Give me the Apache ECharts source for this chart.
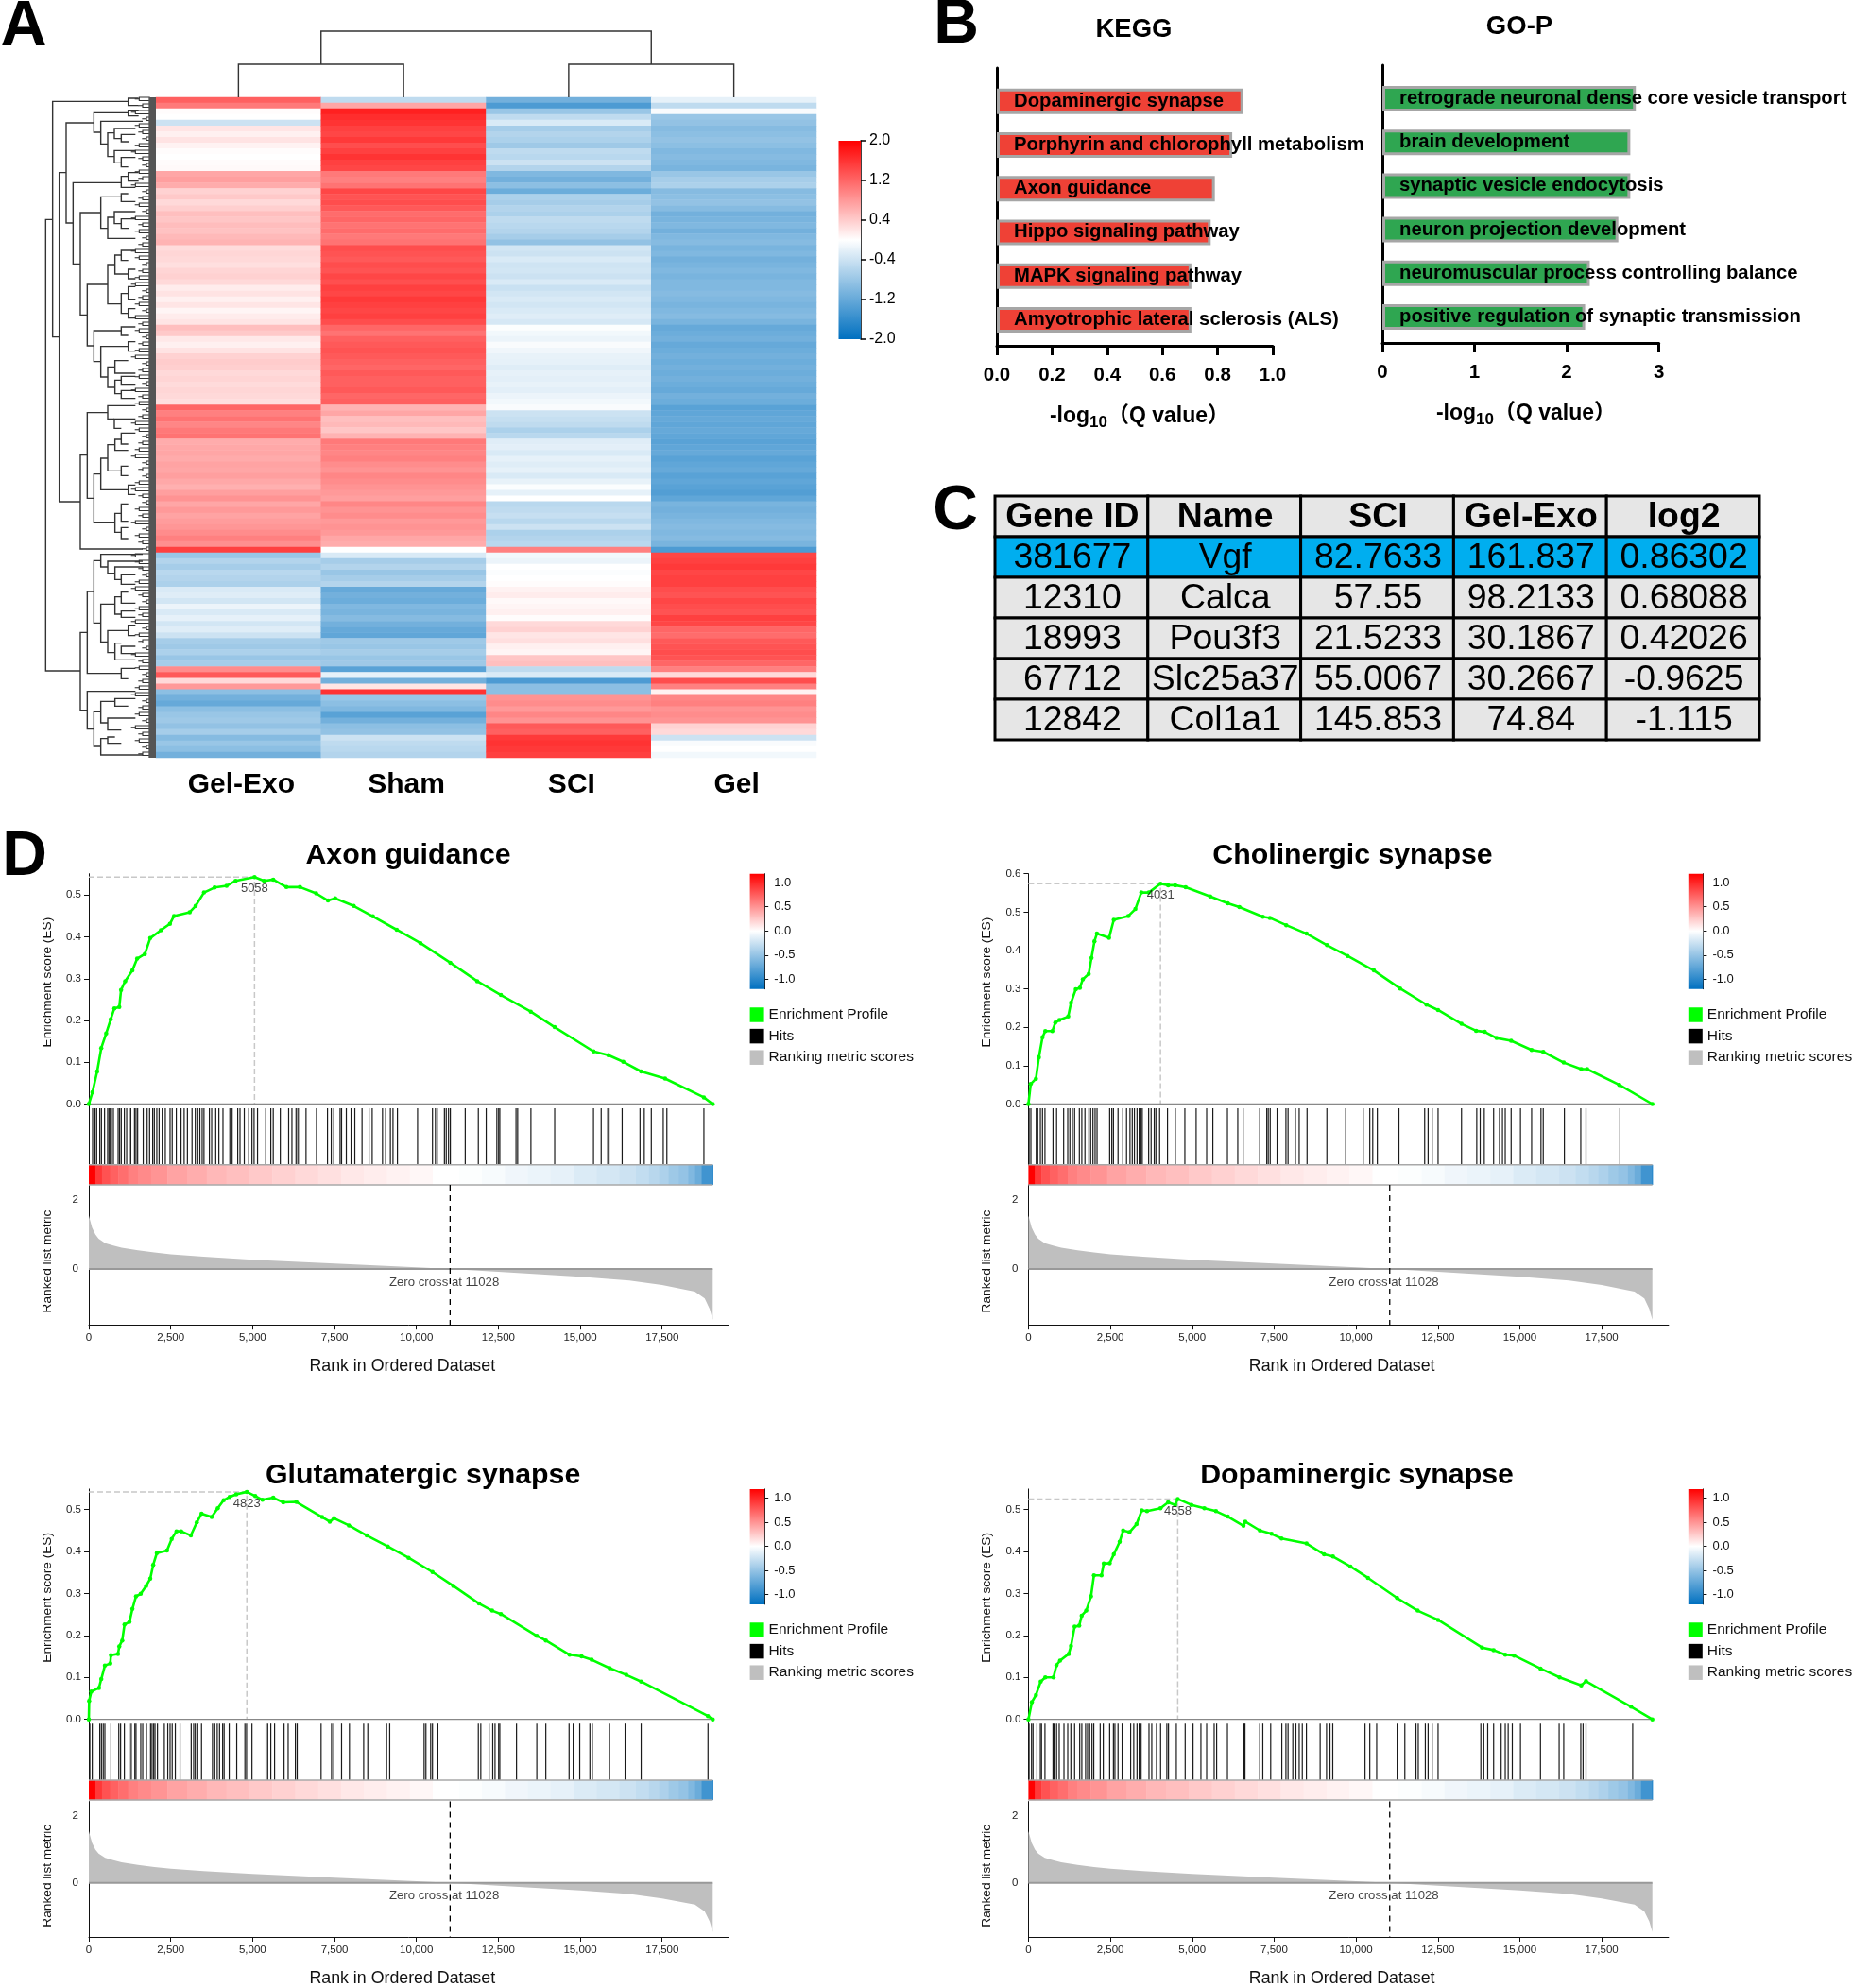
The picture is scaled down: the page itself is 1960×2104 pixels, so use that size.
<!DOCTYPE html>
<html><head><meta charset="utf-8">
<style>html,body{margin:0;padding:0;background:#fff}#c{width:1960px;height:2104px}</style>
<script src="https://cdn.jsdelivr.net/npm/echarts@6/dist/echarts.min.js"></script>
</head><body><div id="c"></div>
<script>
// ---------- Panel A data ----------
const heatColumns = ['Gel-Exo','Sham','SCI','Gel'];
const colGelExo = [1.25,1.05,0.02,0,-0.4,0.2,0.12,0.22,0.1,0.02,0,0.03,0.05,0.7,0.75,0.65,0.35,0.42,0.3,0.38,0.5,0.45,0.52,0.48,0.55,0.6,0.28,0.32,0.3,0.25,0.33,0.36,0.3,0.15,0.22,0.12,0.2,0.08,0.15,0.2,0.5,0.42,0.18,0.12,0.22,0.35,0.4,0.38,0.3,0.33,0.28,0.32,0.3,0.25,1.2,1,1.1,0.95,1.05,1.1,0.65,0.68,0.7,0.66,0.72,0.7,0.75,0.68,0.62,0.75,0.85,0.7,0.8,0.72,0.78,0.82,0.9,1,0.88,1.5,-0.8,-0.6,-0.7,-0.55,-0.6,-0.65,-0.3,-0.25,-0.35,-0.15,-0.3,-0.2,-0.35,-0.25,-0.4,-0.7,-0.75,-0.65,-0.8,-0.7,0.9,1.3,0.3,0.8,-0.9,-1.1,-1.2,-0.9,-0.8,-0.75,-0.85,-0.7,-0.95,-0.8,-0.9,-1.1];
const colSham = [-0.5,0.7,1.75,1.65,1.6,1.5,1.45,1.55,1.4,1.5,1.6,1.5,1.45,1.05,1,1.1,1.45,1.35,1.4,1.3,1.15,1.2,1.1,1.15,1.05,1.1,1.4,1.35,1.3,1.4,1.35,1.45,1.38,1.5,1.45,1.55,1.5,1.45,1.5,1.4,1.2,1.1,1.25,1.3,1.35,1.3,1.25,1.2,1.3,1.25,1.25,1.3,1.2,1.25,0.6,0.7,0.5,0.55,0.45,0.6,1.05,1,0.95,1,0.9,0.85,0.95,0.9,0.85,0.8,0.75,0.95,0.85,0.9,0.8,0.85,0.8,0.7,0.65,0,-0.3,-0.7,-0.6,-0.8,-0.7,-0.6,-1.2,-1.1,-1.15,-1,-1.05,-0.95,-1.1,-1.2,-1.25,-0.75,-0.8,-0.7,-0.8,-0.75,-1.3,-0.2,-1.1,0.2,1.6,-0.8,-0.9,-1,-1.3,-1.1,-0.9,-0.85,-0.4,-0.5,-0.55,-0.6];
const colSCI = [-1.1,-1.4,-0.8,-0.5,-0.3,-0.7,-0.6,-0.65,-0.75,-0.5,-0.55,-0.4,-0.6,-1,-1.1,-0.9,-1.15,-0.65,-0.7,-0.6,-0.65,-0.5,-0.55,-0.6,-0.7,-0.85,-0.35,-0.4,-0.3,-0.38,-0.35,-0.4,-0.3,-0.42,-0.35,-0.3,-0.35,-0.3,-0.25,-0.32,-0.02,-0.1,-0.15,-0.05,-0.12,-0.18,-0.2,-0.25,-0.2,-0.22,-0.18,-0.22,-0.15,-0.1,-0.05,-0.4,-0.45,-0.5,-0.65,-0.55,-0.25,-0.22,-0.3,-0.2,-0.25,-0.2,-0.3,-0.18,-0.03,-0.2,0,-0.55,-0.5,-0.45,-0.55,-0.4,-0.65,-0.6,-0.55,1,-0.1,-0.15,0,-0.03,0,0.02,0.1,0.15,0.05,0.08,0.12,0.02,0.3,0.35,0.2,0.25,0.12,0.08,0.45,0.5,-0.5,-0.3,-1.4,-0.9,-0.9,0.85,0.9,0.8,0.95,0.85,1.3,1.25,1.55,1.6,1.55,1.5];
const colGel = [-0.2,-0.5,-0.05,-0.8,-0.85,-0.95,-0.9,-0.85,-0.9,-1,-0.95,-1,-1.05,-0.8,-0.7,-0.65,-0.95,-0.9,-0.85,-0.95,-1.1,-1.05,-1,-1.1,-1,-0.95,-1.05,-1,-1.1,-1.05,-1,-1.05,-1,-1,-0.95,-1,-1.05,-1,-0.95,-1.05,-1.2,-1.15,-1.1,-1.2,-1.15,-1.1,-1.15,-1.1,-1.15,-1.1,-1.15,-1.2,-1.1,-1.15,-1.3,-1.25,-1.2,-1.25,-1.2,-1.25,-1.3,-1.25,-1.2,-1.3,-1.25,-1.2,-1.3,-1.25,-1.3,-1.35,-1.25,-1.05,-1.1,-1.05,-1,-0.95,-1,-0.95,-1.05,-1.4,1.45,1.5,1.55,1.45,1.5,1.5,1.4,1.35,1.45,1.4,1.35,1.5,1.45,1.2,1.15,1.3,1.35,1.4,1.35,1.2,1,0.3,1.4,1,0.1,0.95,1,0.85,0.9,0.85,0.35,0.3,-0.4,-0.05,0,-0.1];
const heatTicks = [2,1.2,0.4,-0.4,-1.2,-2];
const dendroTop = [[0.5,1.5,35,0,0],[2.5,3.5,35,0,0],[1,3,70,35,35]];
// [stem, y-top, y-bottom, top arm end, bottom arm end]
const dendroLeft = [[25,397,1830,47,135],[47,22,770,287,68],[287,12,35,320,320],[68,248,1293,90,135],[90,90,408,178,112],[178,58,120,287,200],[287,50,68,320,320],[200,85,157,333,222],[222,122,197,243,243],[243,108,140,310,265],[243,178,217,310,265],[265,127,150,310,290],[265,200,230,310,287],[112,280,538,265,135],[265,260,295,287,310],[287,248,275,320,320],[135,375,700,200,157],[200,325,425,265,222],[222,390,457,243,310],[243,372,410,310,265],[265,395,425,310,290],[265,315,340,287,310],[157,603,798,222,178],[222,540,665,245,265],[245,510,570,265,287],[265,495,527,310,287],[287,555,585,310,310],[265,632,695,287,287],[287,610,650,310,310],[287,680,710,310,310],[178,750,848,265,200],[265,738,765,310,287],[200,800,897,287,222],[287,785,815,310,310],[222,865,930,245,245],[245,845,885,287,310],[245,907,950,265,265],[265,895,920,310,310],[265,940,965,310,310],[135,1145,1443,157,333],[157,1010,1282,222,178],[222,988,1030,310,243],[243,1030,1060,310,265],[178,1205,1358,200,245],[200,1155,1255,222,287],[222,1112,1195,245,265],[245,1095,1130,265,287],[265,1075,1110,310,287],[265,1180,1210,287,287],[287,1240,1270,310,310],[245,1330,1390,265,265],[265,1300,1355,287,287],[265,1375,1410,287,287],[135,1708,1955,157,157],[157,1578,1838,178,265],[178,1480,1678,200,200],[200,1460,1500,333,222],[222,1482,1520,333,245],[245,1500,1540,333,265],[265,1525,1555,310,310],[200,1618,1738,245,222],[245,1595,1650,265,265],[265,1580,1615,287,310],[265,1640,1660,310,310],[222,1702,1772,287,245],[287,1685,1718,310,310],[245,1742,1795,265,310],[265,1752,1775,310,310],[265,1822,1855,310,287],[157,1895,2015,310,178],[178,1960,2070,200,200],[200,1927,1995,245,222],[245,1918,1942,310,287],[222,1980,2018,310,265],[200,2045,2097,222,333],[222,2040,2060,245,265]];
const dendroBand = [[352,375,9,2106]];
const leafDepth = [322,333,310,345,322,333,345,322,310,333,345,322,333,310,345,333,322,345,310,333,322,345,333,310,322,345,333,322,310,345,333,322,345,310,333,322,345,333,322,310,345,333,322,345,310,333,322,345,333,310,322,345,333,322,310,345,333,345,322,310,333,345,322,333,310,345,322,333,345,310,322,333,345,322,310,333,345,322,333,310,345,322,333,345,310,333,322,345,333,322,310,345,333,322,345,310,333,322,345,333];

// ---------- Panel B data ----------
const keggNames = ['Dopaminergic synapse','Porphyrin and chlorophyll metabolism','Axon guidance','Hippo signaling pathway','MAPK signaling pathway','Amyotrophic lateral sclerosis (ALS)'];
const keggValues = [0.893,0.853,0.79,0.775,0.705,0.705];
const goNames = ['retrograde neuronal dense core vesicle transport','brain development','synaptic vesicle endocytosis','neuron projection development','neuromuscular process controlling balance','positive regulation of synaptic transmission'];
const goValues = [2.75,2.69,2.69,2.56,2.25,2.2];

// ---------- Panel C data ----------
const tableHeader = ['Gene ID','Name','SCI','Gel-Exo','log2'];
const tableRows = [['381677','Vgf','82.7633','161.837','0.86302'],['12310','Calca','57.55','98.2133','0.68088'],['18993','Pou3f3','21.5233','30.1867','0.42026'],['67712','Slc25a37','55.0067','30.2667','-0.9625'],['12842','Col1a1','145.853','74.84','-1.115']];

// ---------- Panel D data ----------
const gseaTitles = ['Axon guidance','Cholinergic synapse','Glutamatergic synapse','Dopaminergic synapse'];
const peakRanks = [5058,4031,4823,4558];
const peakScores = [0.543,0.574,0.542,0.525];
const esMax = [0.551,0.6,0.5487,0.5487];
const es1 = [[0,0],[110,.028],[255,.078],[380,.134],[530,.169],[670,.203],[780,.229],[930,.232],[985,.273],[1110,.294],[1330,.32],[1475,.348],[1710,.359],[1875,.397],[2200,.416],[2475,.431],[2600,.45],[3080,.459],[3260,.474],[3515,.506],[3840,.518],[4205,.522],[4480,.534],[5058,.543],[5350,.534],[5630,.537],[6030,.519],[6445,.519],[6940,.504],[7300,.487],[7520,.492],[8085,.474],[8670,.449],[9400,.417],[10125,.385],[11035,.338],[11855,.294],[12580,.261],[13490,.221],[14220,.184],[15405,.126],[15860,.117],[16315,.101],[16860,.078],[17590,.061],[18775,.016],[19045,0]];
const es2 = [[0,0],[70,.052],[230,.066],[320,.122],[430,.174],[515,.19],[730,.19],[820,.212],[945,.219],[1215,.228],[1300,.264],[1445,.299],[1570,.303],[1660,.325],[1840,.339],[1925,.381],[2015,.424],[2090,.444],[2460,.433],[2605,.48],[3050,.49],[3265,.508],[3445,.551],[3675,.551],[4031,.574],[4265,.57],[4480,.57],[4800,.565],[5550,.541],[6085,.523],[6440,.513],[7155,.488],[7370,.485],[7870,.466],[8490,.444],[9115,.414],[9740,.386],[10545,.348],[11345,.301],[12150,.259],[12505,.245],[13220,.209],[13665,.191],[13930,.188],[14290,.172],[14735,.165],[15360,.141],[15715,.136],[16340,.108],[16875,.091],[17055,.091],[18035,.05],[19045,0]];
const es3 = [[0,0],[10,.044],[75,.066],[310,.075],[380,.096],[490,.128],[655,.133],[675,.153],[890,.156],[930,.174],[1020,.188],[1090,.226],[1240,.232],[1330,.263],[1440,.293],[1585,.299],[1750,.318],[1875,.335],[1965,.368],[2075,.396],[2385,.402],[2530,.43],[2675,.448],[2820,.448],[3115,.438],[3295,.469],[3440,.49],[3750,.482],[3935,.503],[4115,.522],[4300,.53],[4500,.536],[4823,.542],[5080,.532],[5300,.523],[5630,.528],[5935,.517],[6335,.518],[7120,.482],[7355,.471],[7485,.479],[7940,.462],[8485,.438],[9125,.412],[9760,.385],[10490,.351],[11125,.318],[11910,.276],[12310,.259],[12580,.251],[13675,.199],[13950,.188],[14675,.154],[15040,.15],[15350,.142],[15900,.122],[16405,.106],[16860,.09],[18900,.008],[19045,0]];
const es4 = [[0,0],[105,.041],[230,.058],[375,.09],[515,.1],[765,.1],[855,.129],[965,.14],[1230,.156],[1300,.175],[1410,.221],[1550,.223],[1625,.247],[1765,.259],[1910,.293],[2000,.343],[2230,.343],[2300,.371],[2480,.372],[2605,.393],[2785,.423],[2890,.45],[3085,.446],[3300,.465],[3460,.498],[3620,.496],[4030,.503],[4265,.517],[4480,.511],[4558,.525],[4975,.511],[5370,.503],[5725,.496],[6085,.483],[6565,.461],[6620,.471],[7065,.45],[7420,.442],[7725,.431],[8490,.419],[9025,.393],[9295,.388],[9830,.364],[10365,.337],[11255,.289],[11880,.259],[12505,.237],[13845,.171],[14200,.165],[14555,.154],[14825,.152],[15630,.121],[16215,.1],[16875,.081],[17020,.091],[18395,.03],[19045,0]];
const hits1 = [115,190,240,335,385,480,575,615,655,690,750,895,940,990,1085,1155,1230,1280,1395,1440,1490,1660,1780,1855,1950,2000,2075,2145,2240,2335,2480,2545,2670,2815,2910,3010,3150,3250,3325,3390,3460,3515,3680,3750,3875,3970,4095,4305,4375,4545,4615,4745,4880,4980,5045,5150,5400,5555,5630,5845,6100,6200,6325,6380,6440,6630,6950,7285,7400,7475,7670,7715,7860,8005,8120,8340,8555,8650,8965,9060,9205,9285,9420,10035,10490,10580,10635,10855,10910,10980,11035,11490,11890,12130,12455,12510,12545,13040,13090,13495,14220,15405,15640,15840,15880,16280,16825,16955,17170,17535,17645,18775];
const hits2 = [20,75,240,285,365,430,505,750,860,1075,1200,1265,1345,1410,1555,1630,1725,1845,1900,1970,2035,2095,2480,2545,2595,2735,2880,2995,3100,3170,3235,3315,3380,3440,3475,3670,3745,3840,3890,4005,4245,4485,4775,5120,5440,5630,6075,6390,6555,7060,7275,7320,7380,7590,7860,7925,8150,8265,8505,9110,9685,10220,10420,10510,10650,11310,12095,12200,12325,12505,13220,13685,13790,13915,14200,14380,14470,14555,14735,15020,15360,15645,15715,16360,16860,17020,18055];
const hits3 = [30,105,335,385,440,490,675,915,970,1085,1230,1295,1405,1440,1585,1645,1760,1885,1930,1980,2020,2095,2305,2410,2480,2545,2640,2785,3125,3200,3250,3325,3440,3775,3845,3920,3990,4085,4130,4285,4515,4765,4815,4980,5410,5460,5555,5670,5960,6085,6305,6360,7090,7410,7475,7715,7955,8390,8515,9090,9185,10235,10290,10435,10490,10655,11890,11965,12220,12330,12400,12510,12545,13055,13675,13950,14660,14785,14985,15295,15370,15895,16370,16860,18900];
const hits4 = [20,95,140,260,365,400,505,750,785,860,940,1085,1200,1295,1410,1565,1630,1745,1805,1870,1940,1995,2190,2285,2480,2595,2640,2735,2860,3120,3215,3315,3380,3440,3680,3765,3910,4035,4225,4275,4515,4785,5025,5265,5440,5670,5745,6075,6580,6610,7060,7155,7395,7735,7860,7925,8070,8165,8265,8360,8485,8905,9100,9205,9290,10275,10420,10630,11255,11490,11830,11900,12115,12200,12325,12505,13810,13900,14020,14200,14430,14555,14645,14770,15020,15630,16200,16340,16860,16930,17020,18445];
const metricCurve = [[0,1.55],[100,1.2],[200,1],[300,.88],[500,.75],[750,.68],[1000,.62],[1500,.54],[2000,.48],[2500,.43],[3500,.36],[5000,.27],[7500,.16],[10000,.05],[11028,0],[12500,-.08],[15000,-.22],[16500,-.33],[17500,-.46],[18500,-.65],[18800,-.85],[18950,-1.15],[19045,-1.47]];
const bandRanks = [0,200,400,650,900,1200,1500,1900,2400,3000,3600,4200,4900,5600,6300,7000,7700,8400,9100,9800,10500,11300,12000,12700,13400,14100,14800,15500,16200,16700,17100,17400,17700,18000,18300,18500,18700,19045];
const bandValues = [1.15,.78,.68,.62,.57,.5,.46,.42,.36,.32,.28,.25,.21,.18,.15,.12,.09,.07,.05,.03,0,-.01,-.03,-.06,-.08,-.1,-.14,-.17,-.2,-.24,-.28,-.32,-.38,-.42,-.5,-.58,-.75,-1.0];
const rankEnd = 19045, zeroCross = 11028, zeroLabelRank = 10848;
const metricTicks = [0,2];
const ribbonTicks = [-1,-0.5,0,0.5,1];
const legendNames = ['Enrichment Profile','Hits','Ranking metric scores'];

// ---------- helpers ----------
const AR = '"Liberation Sans",Arial,sans-serif';
const grid=[],xAxis=[],yAxis=[],series=[],graphic=[],legend=[];
function addGrid(box,x,y){const i=grid.length;
  grid.push({left:box[0],top:box[1],width:box[2],height:box[3],containLabel:false});
  xAxis.push(Object.assign({gridIndex:i,show:false},x));
  yAxis.push(Object.assign({gridIndex:i,show:false},y));
  return i;}
function txt(x,y,text,font,extra){graphic.push({type:'text',x,y,silent:true,style:Object.assign({text,font,fill:'#000',align:'center',verticalAlign:'middle'},extra||{})});}
function mix(v){const c=Math.max(-1,Math.min(1,v));
  const f=(a,b,t)=>Math.round(a+(b-a)*t);
  return c>=0?`rgb(255,${f(255,0,c)},${f(255,0,c)})`:`rgb(${f(255,0,-c)},${f(255,112,-c)},${f(255,192,-c)})`;}
function ribbon(g,top,bot){series.push({type:'custom',xAxisIndex:g,yAxisIndex:g,silent:true,data:[[0,bot,top]],
  renderItem:(p,api)=>{const a=api.coord([0,api.value(2)]),b=api.coord([1,api.value(1)]);
    return {type:'rect',shape:{x:a[0],y:a[1],width:b[0]-a[0],height:b[1]-a[1]},style:{fill:new echarts.graphic.LinearGradient(0,0,0,1,[
      {offset:0,color:'#ff0000'},{offset:top/(top-bot),color:'#ffffff'},{offset:1,color:'#0070c0'}])}};}});}

// ---------- A: heatmap ----------
const rowsIdx = colGelExo.map((_,i)=>String(i));
const gH = addGrid([165,103,699,699],
 {show:true,type:'category',data:heatColumns,axisLine:{show:false},axisTick:{show:false},splitLine:{show:false},
  axisLabel:{fontFamily:AR,fontWeight:'bold',fontSize:30,color:'#000',margin:14,padding:[0,0,0,6]}},
 {type:'category',data:rowsIdx,inverse:true});
const heatData=[];[colGelExo,colSham,colSCI,colGel].forEach((col,c)=>col.forEach((v,r)=>heatData.push([c,r,v])));
const heatIdx=series.length;
series.push({type:'heatmap',xAxisIndex:gH,yAxisIndex:gH,data:heatData,silent:true,progressive:0,itemStyle:{borderWidth:0}});
// top dendrogram
const gT = addGrid([165,33,699,70],{type:'value',min:0,max:4},{type:'value',min:0,max:70});
series.push({type:'custom',xAxisIndex:gT,yAxisIndex:gT,silent:true,data:dendroTop,clip:false,
 renderItem:(p,api)=>{const v=i=>api.value(i);const P=(x,y)=>api.coord([x,y]);
  return {type:'polyline',shape:{points:[P(v(0),v(3)),P(v(0),v(2)),P(v(1),v(2)),P(v(1),v(4))]},style:{stroke:'#333',lineWidth:1.4,fill:null}};}});
// left dendrogram
const gL = addGrid([40,100,125,710],{type:'value',min:0,max:375},{type:'value',min:0,max:2130,inverse:true});
series.push({type:'custom',xAxisIndex:gL,yAxisIndex:gL,silent:true,data:dendroBand,z:3,
 renderItem:(p,api)=>{const a=api.coord([api.value(0),api.value(2)]),b=api.coord([api.value(1),api.value(3)]);
  return {type:'rect',shape:{x:a[0],y:a[1],width:b[0]-a[0],height:b[1]-a[1]},style:{fill:'#555555'}};}});
series.push({type:'custom',xAxisIndex:gL,yAxisIndex:gL,silent:true,data:dendroLeft,clip:false,
 renderItem:(p,api)=>{const v=i=>api.value(i);const P=(x,y)=>api.coord([x,y]);
  return {type:'polyline',shape:{points:[P(v(3),v(1)),P(v(0),v(1)),P(v(0),v(2)),P(v(4),v(2))]},style:{stroke:'#333',lineWidth:1.4,fill:null}};}});
series.push({type:'custom',xAxisIndex:gL,yAxisIndex:gL,silent:true,clip:false,
 data:leafDepth.map((d,i)=>[d,9+i*21,9+i*21+10.5]),
 renderItem:(p,api)=>{const v=i=>api.value(i);const P=(x,y)=>api.coord([x,y]);
  return {type:'group',children:[
   {type:'polyline',shape:{points:[P(356,v(1)),P(v(0),v(1)),P(v(0),v(2)),P(356,v(2))]},style:{stroke:'#333',lineWidth:1.1,fill:null}},
   {type:'line',shape:{x1:P(v(0)-14,0)[0],y1:P(0,(v(1)+v(2))/2)[1],x2:P(v(0),0)[0],y2:P(0,(v(1)+v(2))/2)[1]},style:{stroke:'#333',lineWidth:1.1}}]};}});
// colorbar A
const gCA = addGrid([887.5,149,23.5,210],{type:'value',min:0,max:1},
 {show:true,type:'value',position:'right',min:-2,max:2,splitLine:{show:false},axisLine:{show:true,onZero:false,lineStyle:{color:'#000',width:1.5}},
  axisTick:{show:true,length:5,customValues:heatTicks,lineStyle:{color:'#000',width:1.5}},
  axisLabel:{customValues:heatTicks,formatter:v=>v.toFixed(1),fontFamily:AR,fontSize:16,color:'#000',margin:9}});
ribbon(gCA,2,-2);

// ---------- B: bars ----------
function barPanel(names,vals,color,axisBox,barBox,max,interval,fmt){
 const a=addGrid(axisBox,{show:true,type:'value',min:0,max,interval,splitLine:{show:false},
   axisLine:{show:true,lineStyle:{color:'#000',width:3}},axisTick:{show:true,length:10,lineStyle:{color:'#000',width:3}},
   axisLabel:{formatter:fmt,fontFamily:AR,fontWeight:'bold',fontSize:20.5,color:'#000',margin:21}},
  {show:true,type:'value',min:0,max:1,splitLine:{show:false},axisLine:{show:true,lineStyle:{color:'#000',width:3}},axisTick:{show:false},axisLabel:{show:false}});
 const b=addGrid(barBox,{type:'value',min:0,max},{type:'category',data:names,inverse:true});
 series.push({type:'bar',xAxisIndex:b,yAxisIndex:b,silent:true,data:vals,barWidth:27,z:3,
  itemStyle:{color,borderColor:'#a6a6a6',borderWidth:3},
  label:{show:true,position:'insideLeft',distance:18,formatter:p=>names[p.dataIndex],fontFamily:AR,fontWeight:'bold',fontSize:20.3,color:'#000'}});
}
barPanel(keggNames,keggValues,'#EF4136',[1055,72,292,294],[1055,84,292,277.5],1,0.2,v=>v.toFixed(1));
barPanel(goNames,goValues,'#2FA651',[1463,69,292.6,294],[1463,81.4,292.6,277.2],3,1,v=>String(v));

// ---------- C: table ----------
const gTb = addGrid([1053,525,809,258],{type:'category',data:tableHeader},{type:'category',data:['h'].concat(tableRows.map(r=>r[0])),inverse:true});
const tableData=[];
tableHeader.forEach((t,c)=>tableData.push([c,0,t]));
tableRows.forEach((r,i)=>r.forEach((t,c)=>tableData.push([c,i+1,t])));
series.push({type:'custom',xAxisIndex:gTb,yAxisIndex:gTb,silent:true,clip:false,data:tableData,z:5,
 encode:{x:0,y:1},
 renderItem:(p,api)=>{const c=api.value(0),r=api.value(1),t=tableData[p.dataIndex][2];
  const m=api.coord([c,r]),s=api.size([1,1]);
  return {type:'group',children:[
   {type:'rect',shape:{x:m[0]-s[0]/2,y:m[1]-s[1]/2,width:s[0],height:s[1]},style:{fill:r===1?'#00AEEF':'#E6E6E6',stroke:'#000',lineWidth:3}},
   {type:'text',style:{x:m[0]+1,y:m[1]+1.5,text:t,align:'center',verticalAlign:'middle',fill:'#000',font:(r===0?'bold ':'')+'37.4px '+AR}}]};}});

// ---------- D: GSEA ----------
const esAll=[es1,es2,es3,es4], hitsAll=[hits1,hits2,hits3,hits4];
const panelLeft=[94,1088.4,94,1088.4], panelTop=[924.7,924.7,1575.9,1575.9], metricShift=[0,0,1.5,1.5];
const ribbonLeft=[793.6,1786.8,793.6,1786.8];
const legendTop=[1066,1066,1717,1717], titleX=[432,1431.5,447.6,1436], titleY=[906,906,1562,1562];
const W=677.5, XMAX=19541;
const hiddenX={type:'value',min:0,max:XMAX};
const tickFont={fontFamily:AR,fontSize:11.5,color:'#222'};
const nameFont={fontFamily:AR,fontSize:13.7,color:'#111'};
const blackLine={show:true,onZero:false,lineStyle:{color:'#111',width:1}};
gseaTitles.forEach((title,k)=>{
 const L=panelLeft[k],T=panelTop[k];
 txt(titleX[k],titleY[k],title,'bold 30.3px '+AR);
 // enrichment score
 const g1=addGrid([L,T,W,243.8],hiddenX,
  {show:true,type:'value',min:0,max:esMax[k],interval:0.1,name:'Enrichment score (ES)',nameLocation:'middle',nameGap:37,nameTextStyle:Object.assign({padding:[0,0,0,14]},nameFont),
   splitLine:{show:false},axisLine:blackLine,axisTick:{show:true,length:5,lineStyle:{color:'#111'}},
   axisLabel:Object.assign({margin:8,formatter:v=>v.toFixed(1),showMaxLabel:k===1},tickFont)});
 series.push({type:'line',xAxisIndex:g1,yAxisIndex:g1,silent:true,z:1,symbol:'none',data:[[0,peakScores[k]],[peakRanks[k],peakScores[k]],[peakRanks[k],0]],lineStyle:{color:'#c8c8c8',width:1.5,type:'dashed'}});
 series.push({type:'line',xAxisIndex:g1,yAxisIndex:g1,silent:true,z:1,symbol:'none',data:[[0,0],[rankEnd,0]],lineStyle:{color:'#888',width:1.5}});
 series.push({type:'line',name:legendNames[0],xAxisIndex:g1,yAxisIndex:g1,silent:true,z:3,data:esAll[k],clip:false,symbol:'circle',symbolSize:4.5,showAllSymbol:true,
  itemStyle:{color:'#00ff00'},lineStyle:{color:'#00ff00',width:2.6}});
 series.push({type:'scatter',xAxisIndex:g1,yAxisIndex:g1,silent:true,z:4,symbolSize:0,data:[[peakRanks[k],peakScores[k]]],
  label:{show:true,position:'bottom',distance:6,formatter:String(peakRanks[k]),fontFamily:AR,fontSize:13,color:'#111'}});
 // hits
 const g2=addGrid([L,T+243.8,W,64.3],hiddenX,{show:true,type:'value',min:0,max:1.075,splitLine:{show:false},axisLine:blackLine,axisTick:{show:false},axisLabel:{show:false}});
 series.push({type:'custom',name:legendNames[1],xAxisIndex:g2,yAxisIndex:g2,silent:true,itemStyle:{color:'#000'},data:hitsAll[k].map(r=>[r]),
  renderItem:(p,api)=>{const a=api.coord([api.value(0),0]),b=api.coord([api.value(0),1]);
   return {type:'line',shape:{x1:a[0],y1:a[1],x2:b[0],y2:b[1]},style:{stroke:'#1a1a1a',lineWidth:1.2}};}});
 // colour band
 const g3=addGrid([L,T+308.1,W,21.1],hiddenX,{type:'value',min:0,max:1});
 series.push({type:'custom',xAxisIndex:g3,yAxisIndex:g3,silent:true,data:bandValues.map((v,i)=>[bandRanks[i],i<bandRanks.length-1?bandRanks[i+1]:rankEnd,v]),
  renderItem:(p,api)=>{const a=api.coord([api.value(0),1]),b=api.coord([api.value(1),0]);
   return {type:'rect',shape:{x:a[0],y:a[1],width:b[0]-a[0]+0.5,height:b[1]-a[1]},style:{fill:mix(api.value(2))}};}});
 [0,1].forEach(y=>series.push({type:'line',xAxisIndex:g3,yAxisIndex:g3,silent:true,symbol:'none',z:4,clip:false,data:[[0,y],[rankEnd,y]],lineStyle:{color:'#a8a8a8',width:1.5}}));
 // ranked metric
 const g4=addGrid([L,T+329.2+metricShift[k],W,148.3],
  {show:true,type:'value',min:0,max:XMAX,interval:2500,splitLine:{show:false},axisLine:blackLine,
   axisTick:{show:true,length:5,lineStyle:{color:'#111'}},
   axisLabel:Object.assign({margin:8,showMaxLabel:false,formatter:v=>v.toLocaleString('en-US')},tickFont),
   name:'Rank in Ordered Dataset',nameLocation:'middle',nameGap:35,nameTextStyle:{fontFamily:AR,fontSize:17.8,color:'#111',padding:[0,14,0,0]}},
  {show:true,type:'value',min:-1.616,max:2.44,name:'Ranked list metric',nameLocation:'middle',nameGap:37,nameTextStyle:Object.assign({padding:[0,14,0,0]},nameFont),
   splitLine:{show:false},axisLine:blackLine,axisTick:{show:false},
   axisLabel:Object.assign({margin:11,customValues:metricTicks},tickFont)});
 series.push({type:'line',name:legendNames[2],xAxisIndex:g4,yAxisIndex:g4,silent:true,z:2,symbol:'none',data:metricCurve,
  itemStyle:{color:'#bfbfbf'},lineStyle:{width:0,color:'#bfbfbf'},areaStyle:{color:'#bfbfbf',opacity:1}});
 series.push({type:'line',xAxisIndex:g4,yAxisIndex:g4,silent:true,z:3,symbol:'none',data:[[0,0],[rankEnd,0]],lineStyle:{color:'#999',width:2}});
 series.push({type:'line',xAxisIndex:g4,yAxisIndex:g4,silent:true,z:4,symbol:'none',data:[[zeroCross,2.44],[zeroCross,-1.616]],lineStyle:{color:'#000',width:1.3,type:[6,5]}});
 series.push({type:'scatter',xAxisIndex:g4,yAxisIndex:g4,silent:true,z:5,symbolSize:0,data:[[zeroLabelRank,-0.38]],
  label:{show:true,position:'inside',formatter:'Zero cross at '+zeroCross,fontFamily:AR,fontSize:13.2,color:'#111'}});
 // colour ribbon
 const g5=addGrid([ribbonLeft[k],T,15.6,122],{type:'value',min:0,max:1},
  {show:true,type:'value',position:'right',min:-1.2,max:1.185,splitLine:{show:false},axisLine:{show:true,onZero:false,lineStyle:{color:'#111'}},
   axisTick:{show:true,length:4,customValues:ribbonTicks,lineStyle:{color:'#111'}},
   axisLabel:{customValues:ribbonTicks,formatter:v=>v.toFixed(1),fontFamily:AR,fontSize:13,color:'#111',margin:10}});
 ribbon(g5,1.185,-1.2);
 legend.push({left:ribbonLeft[k],top:legendTop[k],padding:0,orient:'vertical',itemWidth:15,itemHeight:15.5,itemGap:6.6,selectedMode:false,icon:'rect',
  data:legendNames,textStyle:{fontFamily:AR,fontSize:15.5,color:'#111'}});
});

// ---------- texts ----------
txt(25,29,'A','bold 68px '+AR);
txt(1012,27,'B','bold 66px '+AR);
txt(1011,542,'C','bold 66px '+AR);
txt(26,908,'D','bold 66px '+AR);
txt(1200,31,'KEGG','bold 27.5px '+AR);
txt(1608,28,'GO-P','bold 27.5px '+AR);
const logRich={a:{font:'bold 23px "Liberation Sans","Noto Sans CJK SC",sans-serif',fill:'#000'},s:{font:'bold 17px '+AR,fill:'#000',padding:[12,0,0,0]}};
[[1206,441],[1615,438]].forEach(p=>graphic.push({type:'text',x:p[0],y:p[1],silent:true,style:{text:'{a|-log}{s|10}{a|（Q value）}',rich:logRich,align:'center',verticalAlign:'middle'}}));

const chart=echarts.init(document.getElementById('c'),null,{renderer:'canvas',width:1960,height:2104});
chart.setOption({animation:false,backgroundColor:'#fff',grid,xAxis,yAxis,series,legend,graphic,
 visualMap:{show:false,seriesIndex:heatIdx,min:-2,max:2,inRange:{color:['#0070c0','#ffffff','#ff0000']}}});
</script></body></html>
